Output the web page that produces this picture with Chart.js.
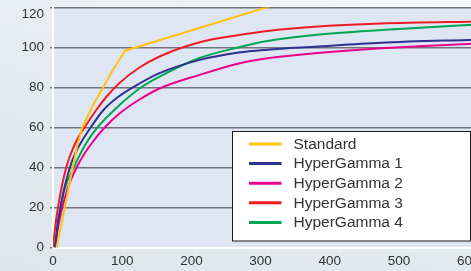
<!DOCTYPE html>
<html>
<head>
<meta charset="utf-8">
<script src="https://cdn.jsdelivr.net/npm/chart.js@4/dist/chart.umd.min.js"></script>
<style>
  html, body { margin: 0; padding: 0; width: 471px; height: 271px; overflow: hidden; }
  body { background: linear-gradient(20deg, #dde6eb 0%, #e6ecf0 55%, #f6f8fa 100%); }
  canvas { display: block; }
</style>
</head>
<body>
<canvas id="chart" width="500" height="271"></canvas>
<script>
// Series labels and colours
const seriesNames = ['Standard', 'HyperGamma 1', 'HyperGamma 2', 'HyperGamma 3', 'HyperGamma 4'];
const seriesColors = ['#ffc20e', '#2e3192', '#ec008c', '#ed1c24', '#00a651'];

// Values (input %, output %)
const stdX = [5, 16.5, 27.5, 34, 41, 55, 70, 85, 101, 300, 600];
const stdY = [0, 20, 40, 51, 60, 70.5, 80, 89.5, 98.4, 120.2, 153];

const hg1X = [3, 6, 10.5, 16, 23.6, 31, 40, 52.7, 70, 90, 121, 149, 204, 260, 300, 366, 459, 580, 600];
const hg1Y = [0, 10, 20, 30, 40, 47, 53, 60, 68.5, 75, 82, 87.2, 93.7, 97.5, 98.9, 100.4, 102.4, 103.8, 104];

const hg2X = [3, 7, 13, 21, 33, 45, 56, 71, 93, 121, 149, 204, 260, 300, 366, 459, 580, 600];
const hg2Y = [0, 10, 20, 30, 40, 47.5, 53, 59.5, 67, 74, 79.5, 86.2, 92, 94.6, 97.1, 99.6, 101.8, 102];

const hg3X = [0, 3, 7, 12, 18.5, 24, 31, 38, 46, 60, 75, 93, 121, 149, 204, 260, 300, 366, 459, 580, 600];
const hg3Y = [0, 10, 20, 30, 40, 46, 52, 56.8, 61, 68.5, 75.5, 82.3, 90, 95.5, 102.5, 106.2, 108.3, 110.4, 112, 112.9, 113];

const hg4X = [3, 6, 10.5, 17, 29, 37, 47, 62, 93, 121, 149, 204, 260, 300, 366, 459, 580, 600];
const hg4Y = [0, 10, 20, 30, 40, 46, 52.5, 60, 71.2, 79.5, 85.4, 94.6, 100.1, 103.2, 106.2, 108.7, 111.2, 111.5];

const seriesX = [stdX, hg1X, hg2X, hg3X, hg4X];
const seriesY = [stdY, hg1Y, hg2Y, hg3Y, hg4Y];

const xTicks = [0, 100, 200, 300, 400, 500, 600];
const yTicks = [0, 20, 40, 60, 80, 100, 120];
// the printed x labels drift left of their tick marks, so they get their own scale
const xLabelMax = 620;

const tickFont = { family: 'Liberation Sans, Arial, sans-serif', size: 13.5 };

// Plot area background
const plotBackground = {
    id: 'plotBackground',
    beforeDraw(chart) {
        const { ctx, chartArea: a } = chart;
        ctx.save();
        ctx.fillStyle = '#dfe6f3';
        ctx.fillRect(a.left, a.top, a.right - a.left, a.bottom - a.top);
        ctx.restore();
    }
};

// Top y label sits a little below its grid line in the original
const topLabel = {
    id: 'topLabel',
    afterDraw(chart) {
        const { ctx } = chart;
        const y = chart.scales.y;
        ctx.save();
        ctx.font = `${tickFont.size}px ${tickFont.family}`;
        ctx.fillStyle = '#333333';
        ctx.textAlign = 'right';
        ctx.textBaseline = 'middle';
        ctx.fillText('120', y.right - 9, y.getPixelForValue(120) + 7);
        ctx.restore();
    }
};

// Boxed legend inside the plot
const boxLegend = {
    id: 'boxLegend',
    afterDraw(chart) {
        const { ctx } = chart;
        const left = 232.5, top = 131.5, width = 238, height = 109.5;
        ctx.save();
        ctx.fillStyle = '#ffffff';
        ctx.fillRect(left, top, width, height);
        ctx.strokeStyle = '#1a1a1a';
        ctx.lineWidth = 1;
        ctx.strokeRect(left, top, width, height);
        ctx.font = '15.5px Liberation Sans, Arial, sans-serif';
        ctx.textBaseline = 'middle';
        chart.data.datasets.forEach((ds, i) => {
            const y = top + 12.5 + i * 19.6;
            ctx.strokeStyle = ds.borderColor;
            ctx.lineWidth = 3;
            ctx.beginPath();
            ctx.moveTo(left + 16.5, y);
            ctx.lineTo(left + 49, y);
            ctx.stroke();
            ctx.fillStyle = '#333333';
            ctx.fillText(ds.label, left + 61, y + 0.5);
        });
        ctx.restore();
    }
};

const datasets = seriesNames.map((name, i) => ({
    label: name,
    data: seriesX[i].map((x, j) => ({ x: x, y: seriesY[i][j] })),
    borderColor: seriesColors[i],
    backgroundColor: 'transparent',
    borderWidth: 2,
    pointRadius: 0,
    tension: i === 0 ? 0 : 0.4,
    cubicInterpolationMode: i === 0 ? 'default' : 'monotone'
}));

const chart = new Chart(document.getElementById('chart').getContext('2d'), {
    type: 'line',
    data: { datasets: datasets },
    options: {
        responsive: false,
        animation: false,
        devicePixelRatio: 1,
        layout: { padding: { top: 7.5, right: 18, left: 0, bottom: 0 } },
        plugins: {
            legend: { display: false },
            tooltip: { enabled: false }
        },
        scales: {
            x: {
                type: 'linear',
                position: 'bottom',
                min: 0,
                max: 600,
                afterFit(scale) {
                    scale.height = 0;
                    scale.paddingLeft = 0;
                    scale.paddingRight = 0;
                },
                afterBuildTicks(scale) { scale.ticks = xTicks.map(v => ({ value: v })); },
                ticks: { display: false },
                grid: { drawOnChartArea: false, drawTicks: true, tickLength: 4, color: '#f4f6f8', lineWidth: 1 },
                border: { display: true, color: '#ffffff', width: 2 }
            },
            xLabels: {
                type: 'linear',
                position: 'bottom',
                min: 0,
                max: xLabelMax,
                afterFit(scale) {
                    scale.height = 23.5;
                    scale.paddingLeft = 0;
                    scale.paddingRight = 0;
                },
                afterBuildTicks(scale) { scale.ticks = xTicks.map(v => ({ value: v })); },
                ticks: { font: tickFont, color: '#333333', padding: 6 },
                grid: { display: false, drawTicks: false },
                border: { display: false }
            },
            y: {
                min: 0,
                max: 120,
                afterFit(scale) {
                    scale.width = 53;
                    scale.paddingTop = 0;
                    scale.paddingBottom = 0;
                },
                afterBuildTicks(scale) { scale.ticks = yTicks.map(v => ({ value: v })); },
                ticks: {
                    font: tickFont,
                    color: '#333333',
                    padding: 6,
                    callback: v => (v === 120 ? '' : v)
                },
                grid: { color: '#73737e', lineWidth: 1.5, tickLength: 3 },
                border: { display: true, color: '#ffffff', width: 2 }
            }
        }
    },
    plugins: [plotBackground, topLabel, boxLegend]
});
</script>
</body>
</html>
